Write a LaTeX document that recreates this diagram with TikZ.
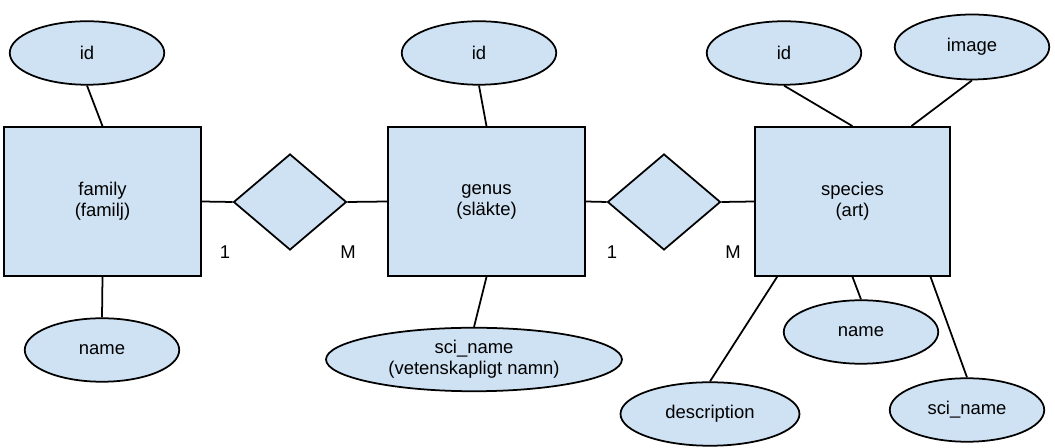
\documentclass[tikz,border=0pt]{standalone}
\usepackage{fontspec,xcolor,tikz}
\setmainfont{Liberation Sans}
\usetikzlibrary{shapes.geometric}
\definecolor{erfill}{RGB}{207,226,243}

\begin{document}
\begin{tikzpicture}[x=0.02cm,y=-0.02cm,line width=1pt,
  font={\fontsize{10.5}{12}\selectfont},
  entity/.style={draw,fill=erfill,align=center,inner sep=0pt,minimum width=3.93cm,minimum height=2.98cm},
  attr/.style={draw,fill=erfill,ellipse,align=center,inner sep=0pt,minimum width=3.09cm,minimum height=1.27cm},
  rel/.style={draw,fill=erfill,diamond,inner sep=0pt,minimum width=2.26cm,minimum height=1.92cm}]
\useasboundingbox (0,0) rectangle (1055,448);
% entities
\node[entity] (family) at (102.5,201.5) {family\\(familj)};
\node[entity] (genus) at (486.5,201.5) {genus\\(släkte)};
\node[entity,minimum width=3.9cm] (species) at (852.5,201.5) {species\\(art)};
% relationships
\node[rel] (rel1) at (290,202) {};
\node[rel] (rel2) at (664,202) {};
% attributes
\node[attr] (fid) at (87,53) {id};
\node[attr] (fname) at (102,350) {name};
\node[attr] (gid) at (479,53) {id};
\node[attr,minimum width=5.92cm] (gsci) at (474,359.5) {sci\_name\\(vetenskapligt namn)};
\node[attr] (sid) at (784,53) {id};
\node[attr,minimum height=1.3cm] (simage) at (972,47) {image};
\node[attr] (sname) at (861,332) {name};
\node[attr,minimum width=3.58cm] (sdesc) at (710,414) {description};
\node[attr] (ssci) at (967,410) {sci\_name};
% cardinalities
\foreach \x/\lab [count=\k] in {225/1,348/M,612/1,733/M}
  \node (card\k) at (\x,252) {\lab};
% connectors
\draw (family.east) -- (rel1.west) (rel1.east) -- (genus.west);
\draw (genus.east) -- (rel2.west) (rel2.east) -- (species.west);
\draw (fid.south) -- (family.north) (family.south) -- (fname.north);
\draw (gid.south) -- (genus.north) (genus.south) -- (gsci.north);
\draw (sid.south) -- (species.north) (simage.south) -- (species.52);
\draw (species.south) -- (sname.north);
\draw (species.225) -- (sdesc.north) (species.-44) -- (ssci.north);
\end{tikzpicture}
\end{document}
